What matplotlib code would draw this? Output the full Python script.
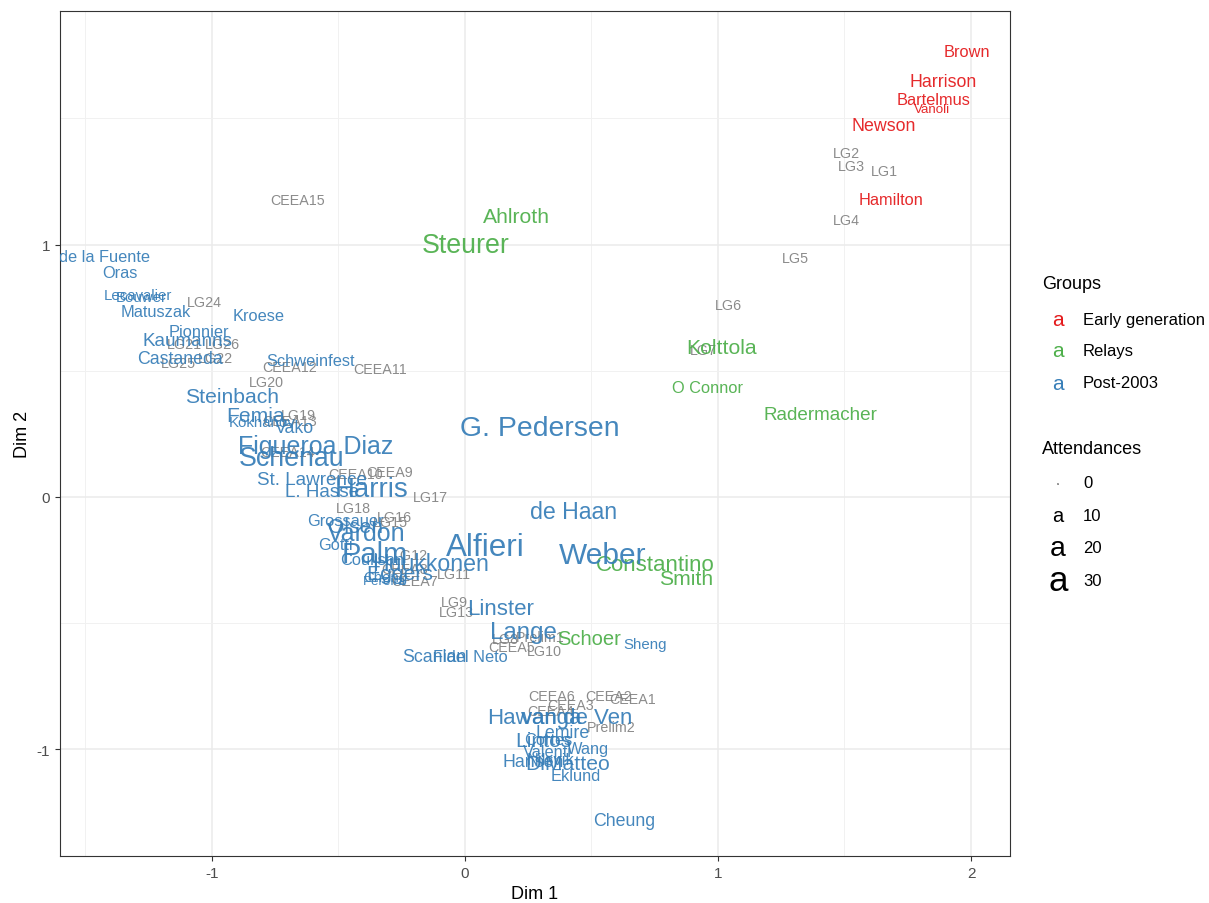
import numpy as np
import matplotlib
matplotlib.use('Agg')
import matplotlib.pyplot as plt

plt.rcParams['font.family'] = ['Liberation Sans', 'DejaVu Sans']
plt.rcParams['axes.unicode_minus'] = False

# 选手（名字、两个维度坐标、分组、出席次数）
names = ['Brown', 'Harrison', 'Bartelmus', 'Vanoli', 'Newson', 'Hamilton',
         'Ahlroth', 'Steurer', 'Kolttola', 'O Connor', 'Radermacher', 'Constantino', 'Smith', 'Schoer',
         'de la Fuente', 'Oras', 'Lecavalier', 'Bouwer', 'Matuszak', 'Kroese', 'Pionnier', 'Kaumanns',
         'Castaneda', 'Schweinfest', 'Steinbach', 'Femia', 'Kokhanov', 'Vako', 'Figueroa Diaz', 'Schenau',
         'St. Lawrence', 'L. Hasse', 'Harris', 'Grossauer', 'Olsen', 'Vardon', 'Gotti', 'Palm', 'Coulisan',
         'Huukkonen', 'Eggers', 'Cheng', 'Pereira', 'Alfieri', 'G. Pedersen', 'de Haan', 'Weber', 'Linster',
         'Lange', 'Scanlan', 'Fidel Neto', 'Sheng', 'Hawanga', 'van de Ven', 'Lemire', 'Lintos', 'Cortes',
         'Valenti', 'Wang', 'Hansen', 'Nilsvik', 'DiMatteo', 'Eklund', 'Cheung']
dim1 = [1.984, 1.889, 1.850, 1.846, 1.656, 1.684,
        0.202, 0.004, 1.016, 0.957, 1.403, 0.751, 0.874, 0.490,
        -1.424, -1.364, -1.292, -1.277, -1.221, -0.814, -1.051, -1.095,
        -1.126, -0.609, -0.921, -0.826, -0.802, -0.672, -0.589, -0.684,
        -0.605, -0.565, -0.368, -0.474, -0.431, -0.391, -0.510, -0.356, -0.368,
        -0.134, -0.257, -0.316, -0.316, 0.079, 0.296, 0.431, 0.545, 0.142,
        0.233, -0.119, 0.020, 0.711, 0.273, 0.443, 0.387, 0.312, 0.330,
        0.328, 0.486, 0.269, 0.340, 0.407, 0.439, 0.628]
dim2 = [1.766, 1.644, 1.576, 1.537, 1.473, 1.180,
        1.113, 0.998, 0.594, 0.432, 0.325, -0.269, -0.321, -0.562,
        0.954, 0.891, 0.800, 0.792, 0.733, 0.717, 0.657, 0.618,
        0.547, 0.539, 0.400, 0.321, 0.297, 0.277, 0.202, 0.154,
        0.071, 0.020, 0.032, -0.095, -0.115, -0.143, -0.190, -0.226, -0.246,
        -0.265, -0.305, -0.317, -0.333, -0.198, 0.273, -0.059, -0.230, -0.440,
        -0.535, -0.630, -0.630, -0.582, -0.875, -0.875, -0.931, -0.966, -0.960,
        -1.010, -0.998, -1.046, -1.040, -1.057, -1.105, -1.283]
groups = ['Early generation'] * 6 + ['Relays'] * 8 + ['Post-2003'] * 50
attend = [6, 7, 6, 4, 7, 6,
          10, 16, 10, 6, 8, 11, 10, 9,
          6, 6, 5, 5, 6, 6, 6, 8,
          7, 6, 10, 10, 5, 7, 14, 16,
          8, 8, 17, 6, 10, 14, 6, 19, 6,
          12, 10, 5, 4, 22, 18, 12, 20, 11,
          13, 7, 6, 5, 11, 11, 7, 10, 6,
          6, 6, 7, 6, 10, 6, 7]

# 会议（灰色小字）
meet_names = ['LG1', 'LG2', 'LG3', 'LG4', 'LG5', 'LG6', 'LG7', 'LG8', 'LG9', 'LG10', 'LG11', 'LG12',
              'LG13', 'LG15', 'LG16', 'LG17', 'LG18', 'LG19', 'LG20', 'LG21', 'LG22', 'LG24', 'LG25',
              'LG26', 'CEEA1', 'CEEA2', 'CEEA3', 'CEEA4', 'CEEA5', 'CEEA6', 'CEEA7', 'CEEA8', 'CEEA9',
              'CEEA10', 'CEEA11', 'CEEA12', 'CEEA13', 'CEEA14', 'CEEA15', 'Prelim1', 'Prelim2']
meet_dim1 = [1.656, 1.506, 1.526, 1.506, 1.304, 1.043, 0.941, 0.158, -0.043, 0.316, -0.043, -0.217,
             -0.032, -0.296, -0.277, -0.138, -0.439, -0.660, -0.783, -1.107, -0.984, -1.028, -1.134,
             -0.960, 0.664, 0.569, 0.419, 0.340, 0.186, 0.344, -0.198, -0.237, -0.296,
             -0.431, -0.336, -0.692, -0.692, -0.700, -0.660, 0.296, 0.577]
meet_dim2 = [1.291, 1.362, 1.311, 1.097, 0.947, 0.760, 0.582, -0.562, -0.416, -0.610, -0.305, -0.230,
             -0.455, -0.099, -0.079, 0.000, -0.044, 0.325, 0.455, 0.606, 0.551, 0.772, 0.531,
             0.606, -0.800, -0.788, -0.824, -0.848, -0.594, -0.788, -0.333, -0.285, 0.099,
             0.091, 0.507, 0.515, 0.301, 0.178, 1.176, -0.554, -0.911]

group_levels = ['Early generation', 'Relays', 'Post-2003']
group_colors = {'Early generation': '#E41A1C', 'Relays': '#4DAF4A', 'Post-2003': '#377EB8'}
size_breaks = [0, 10, 20, 30]


def att_size(a):
    # 面积比例映射：字号 ~ sqrt(出席次数)
    return 4.82 * np.sqrt(a)


W, H = 1209, 904
fig = plt.figure(figsize=(W / 100, H / 100), dpi=100)
ax = fig.add_axes([60 / W, 47 / H, 950 / W, 845 / H])
ax.set_xlim(-1.60, 2.154)
ax.set_ylim(-1.422, 1.925)

# theme_bw 风格
ax.set_xticks([-1, 0, 1, 2])
ax.set_yticks([-1, 0, 1])
ax.set_xticks([-1.5, -0.5, 0.5, 1.5], minor=True)
ax.set_yticks([-0.5, 0.5, 1.5], minor=True)
ax.grid(True, which='major', color='#EBEBEB', linewidth=1.1, zorder=0)
ax.grid(True, which='minor', color='#F1F1F1', linewidth=0.7, zorder=0)
ax.set_axisbelow(True)
for s in ax.spines.values():
    s.set_color('#333333')
    s.set_linewidth(0.8)
ax.tick_params(which='major', length=3.5, color='#333333', labelsize=11, labelcolor='#4D4D4D', width=0.8)
ax.tick_params(which='minor', length=0)
ax.set_xlabel('Dim 1', fontsize=13, labelpad=4)
ax.set_ylabel('Dim 2', fontsize=13, labelpad=4)

for n, x, y in zip(meet_names, meet_dim1, meet_dim2):
    ax.text(x, y, n, fontsize=10.3, color='#7F7F7F', ha='center', va='center', alpha=0.9, clip_on=True)

for n, x, y, g, a in zip(names, dim1, dim2, groups, attend):
    ax.text(x, y, n, fontsize=att_size(a), color=group_colors[g], ha='center', va='center',
            alpha=0.93, clip_on=True)


def fx(px):
    return px / W


def fy(py):
    return 1 - py / H


# 图例：Groups
fig.text(fx(1042), fy(285), 'Groups', fontsize=13, ha='left', va='center')
for i, g in enumerate(group_levels):
    yy = 320 + i * 32
    fig.text(fx(1058), fy(yy), 'a', fontsize=15, color=group_colors[g], ha='center', va='center')
    fig.text(fx(1083), fy(yy), g, fontsize=12, ha='left', va='center')

# 图例：Attendances
fig.text(fx(1042), fy(450), 'Attendances', fontsize=13, ha='left', va='center')
for i, b in enumerate(size_breaks):
    yy = 484 + i * 32.5
    fs = max(att_size(b) * 0.95, 2.5)
    fig.text(fx(1058), fy(yy), 'a', fontsize=fs, color='black', ha='center', va='center')
    fig.text(fx(1083), fy(yy), str(b), fontsize=12, ha='left', va='center')

fig.savefig('out.png', dpi=100)
